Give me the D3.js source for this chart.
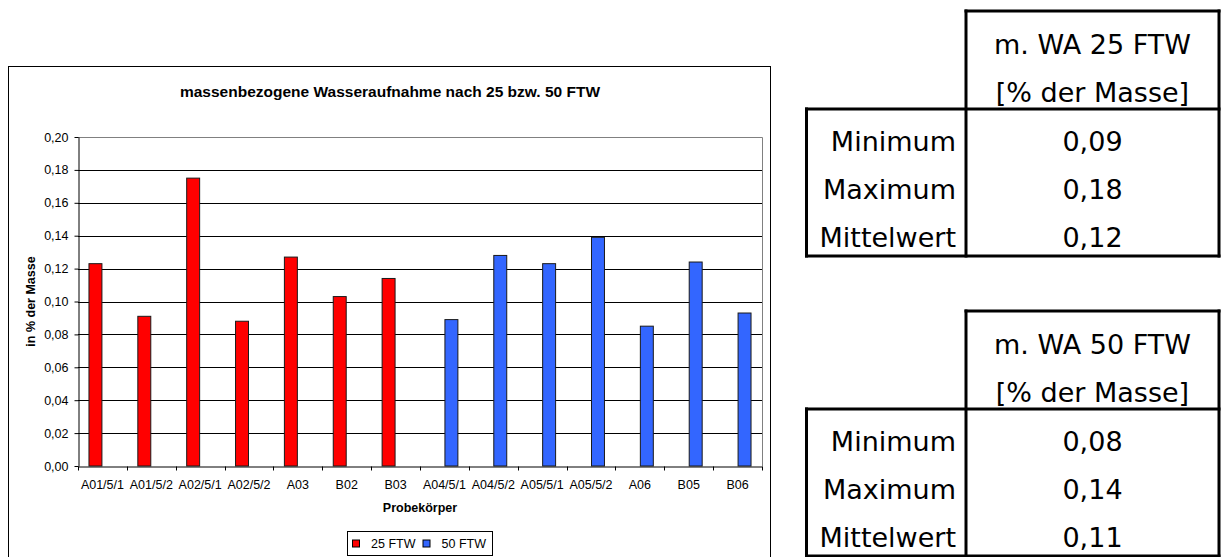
<!DOCTYPE html>
<html>
<head>
<meta charset="utf-8">
<script src="https://cdn.jsdelivr.net/npm/d3@7"></script>
<style>
  body { margin: 0; background: #fff; }
  svg { display: block; font-family: "Liberation Sans", Arial, sans-serif; }
  .tbl text { font-family: "DejaVu Sans", sans-serif; font-size: 27px; fill: #000; }
</style>
</head>
<body>
<div id="chart"></div>
<script>
// Samples (x categories) and the two freeze-thaw series.
const categories = ["A01/5/1", "A01/5/2", "A02/5/1", "A02/5/2", "A03", "B02", "B03",
  "A04/5/1", "A04/5/2", "A05/5/1", "A05/5/2", "A06", "B05", "B06"];
const ftw25 = [0.123, 0.091, 0.175, 0.088, 0.127, 0.103, 0.114,
  null, null, null, null, null, null, null];
const ftw50 = [null, null, null, null, null, null, null,
  0.089, 0.128, 0.123, 0.139, 0.085, 0.124, 0.093];
const seriesNames = ["25 FTW", "50 FTW"];
const yTicks = [0, 0.02, 0.04, 0.06, 0.08, 0.10, 0.12, 0.14, 0.16, 0.18, 0.20];

// Summary tables next to the chart.
const statLabels = ["Minimum", "Maximum", "Mittelwert"];
const header25 = ["m. WA 25 FTW", "[% der Masse]"];
const header50 = ["m. WA 50 FTW", "[% der Masse]"];
const stats25 = ["0,09", "0,18", "0,12"];
const stats50 = ["0,08", "0,14", "0,11"];

const W = 1224, H = 557;
const svg = d3.select('#chart').append('svg').attr('width', W).attr('height', H);

// Outer chart frame.
svg.append('rect')
  .attr('x', 8.5).attr('y', 66.5).attr('width', 762).attr('height', 500)
  .attr('fill', '#fff').attr('stroke', '#000').attr('stroke-width', 1);

const plot = {left: 78, right: 762, top: 137, bottom: 466};
const de = d3.formatLocale({decimal: ",", thousands: ".", grouping: [3], currency: ["", " €"]});

const x = d3.scaleBand().domain(categories).range([plot.left, plot.right]).paddingInner(0).paddingOuter(0);
// Excel-like grouping: gap width 150 %.
const xs = d3.scaleBand().domain(seriesNames).range([0, x.bandwidth()]).paddingInner(0).paddingOuter(0.75);
const y = d3.scaleLinear().domain([0, 0.2]).range([plot.bottom, plot.top]);
const color = d3.scaleOrdinal(seriesNames, ["#ff0000", "#3366ff"]);

// Grid lines.
svg.append('g').selectAll('line').data(yTicks.slice(1, -1)).join('line')
  .attr('x1', plot.left).attr('x2', plot.right)
  .attr('y1', d => Math.round(y(d)) + 0.5).attr('y2', d => Math.round(y(d)) + 0.5)
  .attr('stroke', '#000').attr('stroke-width', 1);

// Plot area border (top and right).
svg.append('path')
  .attr('d', `M${plot.left},${plot.top + 0.5}H${plot.right + 0.5}V${plot.bottom}`)
  .attr('fill', 'none').attr('stroke', '#808080');

// Bars.
const rows = categories.map((c, i) => ({cat: c, values: [ftw25[i], ftw50[i]]}));
const groups = svg.append('g').selectAll('g').data(rows).join('g')
  .attr('transform', d => `translate(${x(d.cat)},0)`);
groups.selectAll('rect')
  .data(d => d.values.map((v, j) => ({name: seriesNames[j], value: v})).filter(d => d.value != null))
  .join('rect')
  .attr('x', d => xs(d.name) + 0.5)
  .attr('width', xs.bandwidth() - 1)
  .attr('y', d => y(d.value))
  .attr('height', d => plot.bottom - y(d.value))
  .attr('fill', d => color(d.name))
  .attr('stroke', '#1a1a1a').attr('stroke-width', 1);

// Axes.
const yAxis = svg.append('g').attr('transform', `translate(${plot.left + 0.5},0)`)
  .call(d3.axisLeft(y).tickValues(yTicks).tickFormat(de.format('.2f')).tickSize(4).tickPadding(6).tickSizeOuter(0))
  .attr('font-family', null).attr('font-size', null);
yAxis.selectAll('text').style('font-size', '12.5px').attr('fill', '#000');
yAxis.selectAll('line, path').attr('stroke', '#000');

const xAxis = svg.append('g').attr('transform', `translate(0,${plot.bottom + 0.5})`)
  .call(d3.axisBottom(x).tickSize(0).tickPadding(14))
  .attr('font-family', null).attr('font-size', null);
xAxis.selectAll('text').style('font-size', '12.5px').attr('fill', '#000');
xAxis.select('.domain').attr('stroke', '#000');
// Ticks between categories.
xAxis.selectAll('line.sep').data(d3.range(categories.length + 1)).join('line')
  .attr('class', 'sep')
  .attr('x1', i => Math.round(plot.left + i * x.step()) + 0.5)
  .attr('x2', i => Math.round(plot.left + i * x.step()) + 0.5)
  .attr('y1', 0).attr('y2', 4).attr('stroke', '#000');

// Titles.
svg.append('text').attr('x', 390).attr('y', 97).attr('text-anchor', 'middle')
  .style('font-size', '15.5px').style('font-weight', 'bold')
  .text('massenbezogene Wasseraufnahme nach 25 bzw. 50 FTW');
svg.append('text').attr('x', (plot.left + plot.right) / 2).attr('y', 512).attr('text-anchor', 'middle')
  .style('font-size', '12.5px').style('font-weight', 'bold').text('Probekörper');
svg.append('text').attr('transform', `translate(34.5,${(plot.top + plot.bottom) / 2}) rotate(-90)`)
  .attr('text-anchor', 'middle')
  .style('font-size', '12.5px').style('font-weight', 'bold').text('in % der Masse');

// Legend.
const legend = svg.append('g').attr('transform', 'translate(347.5,531.5)');
legend.append('rect').attr('width', 145).attr('height', 24).attr('fill', '#fff').attr('stroke', '#000');
const items = legend.selectAll('g').data(seriesNames).join('g')
  .attr('transform', (d, i) => `translate(${5 + i * 70.5},8.5)`);
items.append('rect').attr('width', 7).attr('height', 7)
  .attr('fill', d => color(d)).attr('stroke', '#000').attr('stroke-width', 1);
items.append('text').attr('x', 18.5).attr('y', 7.5)
  .style('font-size', '12.5px').text(d => d);

// Summary tables.
function drawTable(top, header, values){
  const g = svg.append('g').attr('class', 'tbl').attr('transform', `translate(0,${top})`);
  const L = 806.5, D = 966, R = 1219, T = 0, M = 98, B = 245;
  const lines = [
    [D, T, R, T], [R, T, R, B], [D, T, D, B], [L, M, R, M], [L, M, L, B], [L, B, R, B]
  ];
  g.selectAll('line').data(lines).join('line')
    .attr('x1', d => d[0]).attr('y1', d => d[1]).attr('x2', d => d[2]).attr('y2', d => d[3])
    .attr('stroke', '#000').attr('stroke-width', 3).attr('stroke-linecap', 'square');
  const cx = (D + R) / 2;
  g.selectAll('text.h').data(header).join('text').attr('class', 'h')
    .attr('x', cx).attr('y', (d, i) => 43 + i * 48).attr('text-anchor', 'middle').text(d => d);
  g.selectAll('text.l').data(statLabels).join('text').attr('class', 'l')
    .attr('x', 956).attr('y', (d, i) => 140 + i * 48).attr('text-anchor', 'end').text(d => d);
  g.selectAll('text.v').data(values).join('text').attr('class', 'v')
    .attr('x', cx).attr('y', (d, i) => 140 + i * 48).attr('text-anchor', 'middle').text(d => d);
}
drawTable(11, header25, stats25);
drawTable(311, header50, stats50);
</script>
</body>
</html>
